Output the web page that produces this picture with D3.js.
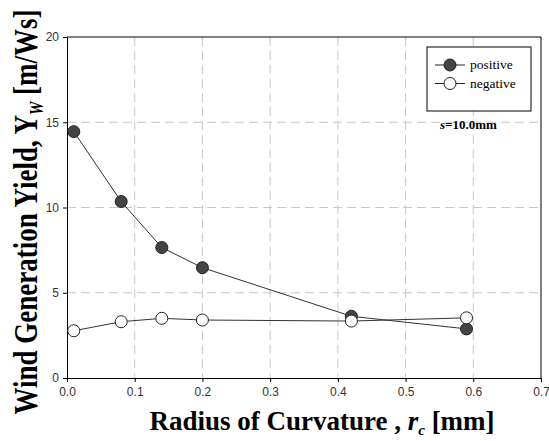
<!DOCTYPE html>
<html>
<head>
<meta charset="utf-8">
<script src="https://cdn.jsdelivr.net/npm/d3@7"></script>
<style>
  body { margin: 0; background: #fff; }
  svg { display: block; }
</style>
</head>
<body>
<svg width="549" height="441"></svg>
<script>
// radius of curvature [mm]
const radius = [0.01, 0.08, 0.14, 0.2, 0.42, 0.59];
// wind generation yield [m/Ws]
const positive = [14.45, 10.35, 7.65, 6.47, 3.62, 2.88];
const negative = [2.77, 3.3, 3.5, 3.4, 3.34, 3.53];
const xTicks = [0, 0.1, 0.2, 0.3, 0.4, 0.5, 0.6, 0.7];
const yTicks = [0, 5, 10, 15, 20];

const svg = d3.select('svg');
const plotLeft = 67, plotRight = 541, plotTop = 37, plotBottom = 378;

const x = d3.scaleLinear().domain([0, 0.7]).range([plotLeft, plotRight]);
const y = d3.scaleLinear().domain([0, 20]).range([plotBottom, plotTop]);

// dashed grid
svg.append('g')
    .selectAll('line')
    .data(yTicks.slice(1, -1))
    .enter().append('line')
    .attr('x1', plotLeft).attr('x2', plotRight)
    .attr('y1', d => y(d)).attr('y2', d => y(d))
    .attr('stroke', '#c8c8c8').attr('stroke-dasharray', '9,5');
svg.append('g')
    .selectAll('line')
    .data(xTicks.slice(1, -1))
    .enter().append('line')
    .attr('y1', plotTop).attr('y2', plotBottom)
    .attr('x1', d => x(d)).attr('x2', d => x(d))
    .attr('stroke', '#c8c8c8').attr('stroke-dasharray', '9,5');

// frame top/right
svg.append('path')
    .attr('d', `M${plotLeft},${plotTop}H${plotRight}V${plotBottom}`)
    .attr('fill', 'none').attr('stroke', '#000');

const xAxis = svg.append('g')
    .attr('transform', `translate(0,${plotBottom})`)
    .call(d3.axisBottom(x).tickValues(xTicks).tickFormat(d3.format('.1f')).tickSize(4).tickSizeOuter(0));
const yAxis = svg.append('g')
    .attr('transform', `translate(${plotLeft},0)`)
    .call(d3.axisLeft(y).tickValues(yTicks).tickSize(4).tickSizeOuter(0));
[xAxis, yAxis].forEach(a => {
    a.selectAll('path, line').attr('stroke', '#000');
    a.selectAll('text')
        .attr('fill', '#333')
        .style('font-family', 'Liberation Sans, Arial, sans-serif')
        .style('font-size', '12px');
});
xAxis.selectAll('text').attr('dy', '0.9em');
yAxis.selectAll('text').attr('x', -8);

const line = d3.line().x(d => x(d[0])).y(d => y(d[1]));
const series = [
    { name: 'positive', values: positive, fill: '#444' },
    { name: 'negative', values: negative, fill: '#fff' }
];

series.forEach(s => {
    const pts = radius.map((r, i) => [r, s.values[i]]);
    svg.append('path')
        .attr('d', line(pts))
        .attr('fill', 'none').attr('stroke', '#333').attr('stroke-width', 1);
    svg.append('g')
        .selectAll('circle')
        .data(pts)
        .enter().append('circle')
        .attr('cx', d => x(d[0])).attr('cy', d => y(d[1]))
        .attr('r', 6)
        .attr('fill', s.fill).attr('stroke', '#222').attr('stroke-width', 1);
});

// legend
const legend = svg.append('g');
legend.append('rect')
    .attr('x', 427).attr('y', 47).attr('width', 104).attr('height', 64)
    .attr('fill', '#fff').attr('stroke', '#000');
series.forEach((s, i) => {
    const ly = 65 + i * 18.5;
    legend.append('line')
        .attr('x1', 435).attr('x2', 465).attr('y1', ly).attr('y2', ly)
        .attr('stroke', '#222');
    legend.append('circle')
        .attr('cx', 450).attr('cy', ly).attr('r', 6)
        .attr('fill', s.fill).attr('stroke', '#222');
    legend.append('text')
        .attr('x', 470).attr('y', ly + 4)
        .style('font-family', 'Liberation Serif, Times New Roman, serif')
        .style('font-size', '13.5px')
        .text(s.name);
});

svg.append('text')
    .attr('x', 440).attr('y', 129)
    .style('font-family', 'Liberation Serif, Times New Roman, serif')
    .style('font-size', '13px').style('font-weight', 'bold')
    .html('<tspan font-style="italic">s</tspan>=10.0mm');

// axis titles
const titleStyle = t => t
    .style('font-family', 'Liberation Serif, Times New Roman, serif')
    .style('font-size', '27px').style('font-weight', 'bold')
    .attr('text-anchor', 'middle');

svg.append('text')
    .attr('x', 322).attr('y', 430)
    .call(titleStyle)
    .html('Radius of Curvature , <tspan font-style="italic">r</tspan><tspan font-style="italic" font-size="15px" dy="5">c</tspan><tspan dy="-5"> [mm]</tspan>');

svg.append('text')
    .attr('transform', 'translate(37,212) rotate(-90) scale(1,1.28)')
    .call(titleStyle)
    .html('Wind Generation Yield, Y<tspan font-style="italic" font-size="15px" dy="5">W</tspan><tspan dy="-5"> [m/Ws]</tspan>');
</script>
</body>
</html>
